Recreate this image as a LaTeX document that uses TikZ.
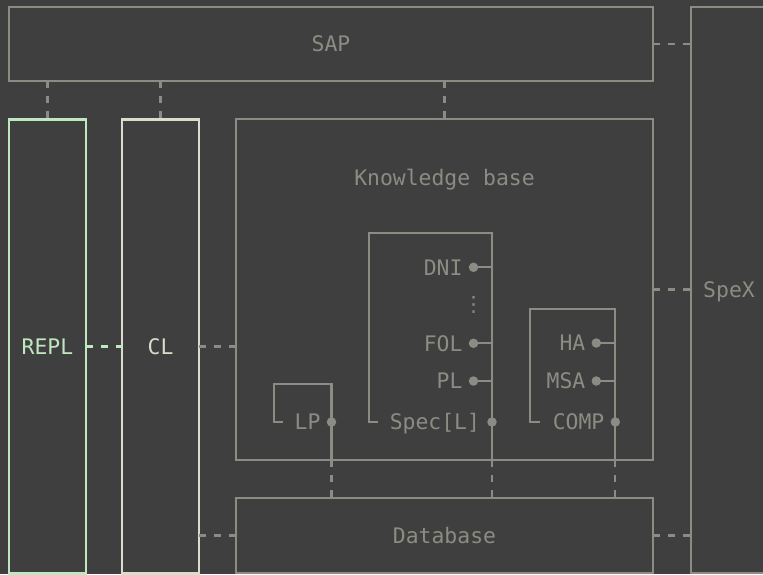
\documentclass[tikz,border=0pt]{standalone}
\usepackage{fontspec}
\setmonofont{DejaVu Sans Mono}
\newfontfamily\dejamono{DejaVu Sans Mono}
\newfontfamily\dejasans{DejaVu Sans}
\definecolor{bgc}{HTML}{3F3F3F}
\definecolor{linec}{HTML}{8C8C84}
\definecolor{greenc}{HTML}{C0E8C0}
\definecolor{lightc}{HTML}{DCDCCC}
\tikzset{
  box/.style={draw=linec, line width=2.2pt, inner sep=0pt, outer sep=0pt, rectangle,
    text=linec, font=\dejamono\fontsize{21.4}{21.4}\selectfont, text height=15.4pt, text depth=0pt},
  lbl/.style={inner sep=0pt, outer sep=0pt, text=linec,
    font=\dejamono\fontsize{21.4}{21.4}\selectfont, text height=15.4pt, text depth=0pt},
  conn/.style={draw=linec, line width=2.2pt},
  dconn/.style={draw=linec, line width=2.2pt, dash pattern=on 7pt off 8pt},
  dotnode/.style={circle, fill=linec, inner sep=0pt, outer sep=0pt, minimum size=9.5pt},
}
\begin{document}
\begin{tikzpicture}[x=1pt,y=-1pt]
\fill[bgc] (0,0) rectangle (763,574);
\useasboundingbox (0,0) rectangle (763,574);
\clip (0,0) rectangle (763,574);

% main boxes
\node[box, minimum width=644pt, minimum height=74pt] (sap) at (331,44) {SAP};
\node[box, minimum width=76pt, minimum height=566pt] (spex) at (729,290) {SpeX};
\node[box, draw=greenc, text=greenc, minimum width=77pt, minimum height=454pt] (repl) at (47.5,346.5) {REPL};
\node[box, draw=lightc, text=lightc, minimum width=77pt, minimum height=454pt] (cl) at (160.5,346.5) {CL};
\node[box, minimum width=417pt, minimum height=341pt] (kb) at (444.5,289.5) {};
\node[lbl] (kbtext) at (444.5,178) {Knowledge base};
\node[box, minimum width=417pt, minimum height=75pt] (db) at (444.5,535.5) {Database};

% Spec box
\coordinate (specTL) at (369,233);
\coordinate (specTR) at (492,233);
\coordinate (specTick) at (378,422);
\node[dotnode] (specdot) at (492,422) {};
\node[lbl, anchor=base east] (spect) at ([xshift=-12pt,yshift=-7.7pt]specdot.center) {Spec[L]};
\node[dotnode] (dni) at (473.5,267.3) {};
\node[lbl, anchor=base east] (dnit) at ([xshift=-11pt,yshift=-7.7pt]dni.center) {DNI};
\node[lbl, font=\dejasans\fontsize{21}{21}\selectfont, text height=, text depth=] (vd) at (473.5,305) {⋮};
\node[dotnode] (fol) at (473.5,343.3) {};
\node[lbl, anchor=base east] (folt) at ([xshift=-11pt,yshift=-7.7pt]fol.center) {FOL};
\node[dotnode] (pl) at (473.5,381) {};
\node[lbl, anchor=base east] (plt) at ([xshift=-11pt,yshift=-7.7pt]pl.center) {PL};
\draw[conn] (specTick) -- (specTick -| specTL) -- (specTL) -- (specTR) -- (specdot.center);
\draw[conn] (dni.center) -- (dni -| specTR);
\draw[conn] (fol.center) -- (fol -| specTR);
\draw[conn] (pl.center) -- (pl -| specTR);
\draw[conn] (specdot.center) -- (specdot |- kb.south);
\draw[dconn] (specdot |- kb.south) -- (specdot |- db.north);

% LP box
\coordinate (lpTL) at (274,384);
\coordinate (lpTR) at (331.5,384);
\coordinate (lpTick) at (283,422);
\node[dotnode] (lpdot) at (331.5,422) {};
\node[lbl, anchor=base east] (lpt) at ([xshift=-11pt,yshift=-7.7pt]lpdot.center) {LP};
\draw[conn] (lpTick) -- (lpTick -| lpTL) -- (lpTL) -- (lpTR) -- (lpdot.center);
\draw[conn] (lpdot.center) -- (lpdot |- kb.south);
\draw[dconn] (lpdot |- kb.south) -- (lpdot |- db.north);

% COMP box
\coordinate (cpTL) at (530,309.3);
\coordinate (cpTR) at (615.3,309.3);
\coordinate (cpTick) at (540,422);
\node[dotnode] (cpdot) at (615.3,422) {};
\node[lbl, anchor=base east] (cpt) at ([xshift=-11pt,yshift=-7.7pt]cpdot.center) {COMP};
\node[dotnode] (ha) at (596.3,343) {};
\node[lbl, anchor=base east] (hat) at ([xshift=-11pt,yshift=-7.7pt]ha.center) {HA};
\node[dotnode] (msa) at (596.3,381) {};
\node[lbl, anchor=base east] (msat) at ([xshift=-11pt,yshift=-7.7pt]msa.center) {MSA};
\draw[conn] (cpTick) -- (cpTick -| cpTL) -- (cpTL) -- (cpTR) -- (cpdot.center);
\draw[conn] (ha.center) -- (ha -| cpTR);
\draw[conn] (msa.center) -- (msa -| cpTR);
\draw[conn] (cpdot.center) -- (cpdot |- kb.south);
\draw[dconn] (cpdot |- kb.south) -- (cpdot |- db.north);

% dashed connectors
\draw[dconn] (repl.north |- sap.south) -- (repl.north);
\draw[dconn] (cl.north |- sap.south) -- (cl.north);
\draw[dconn] (kb.north |- sap.south) -- (kb.north);
\draw[dconn] (sap.east) -- (sap.east -| spex.west);
\draw[dconn] (kb.east) -- (kb.east -| spex.west);
\draw[dconn] (db.east) -- (db.east -| spex.west);
\draw[dconn, draw=greenc] (repl.east) -- (cl.west);
\draw[dconn] (cl.east) -- (cl.east -| kb.west);
\draw[dconn] (db.west -| cl.east) -- (db.west);
\end{tikzpicture}
\end{document}
